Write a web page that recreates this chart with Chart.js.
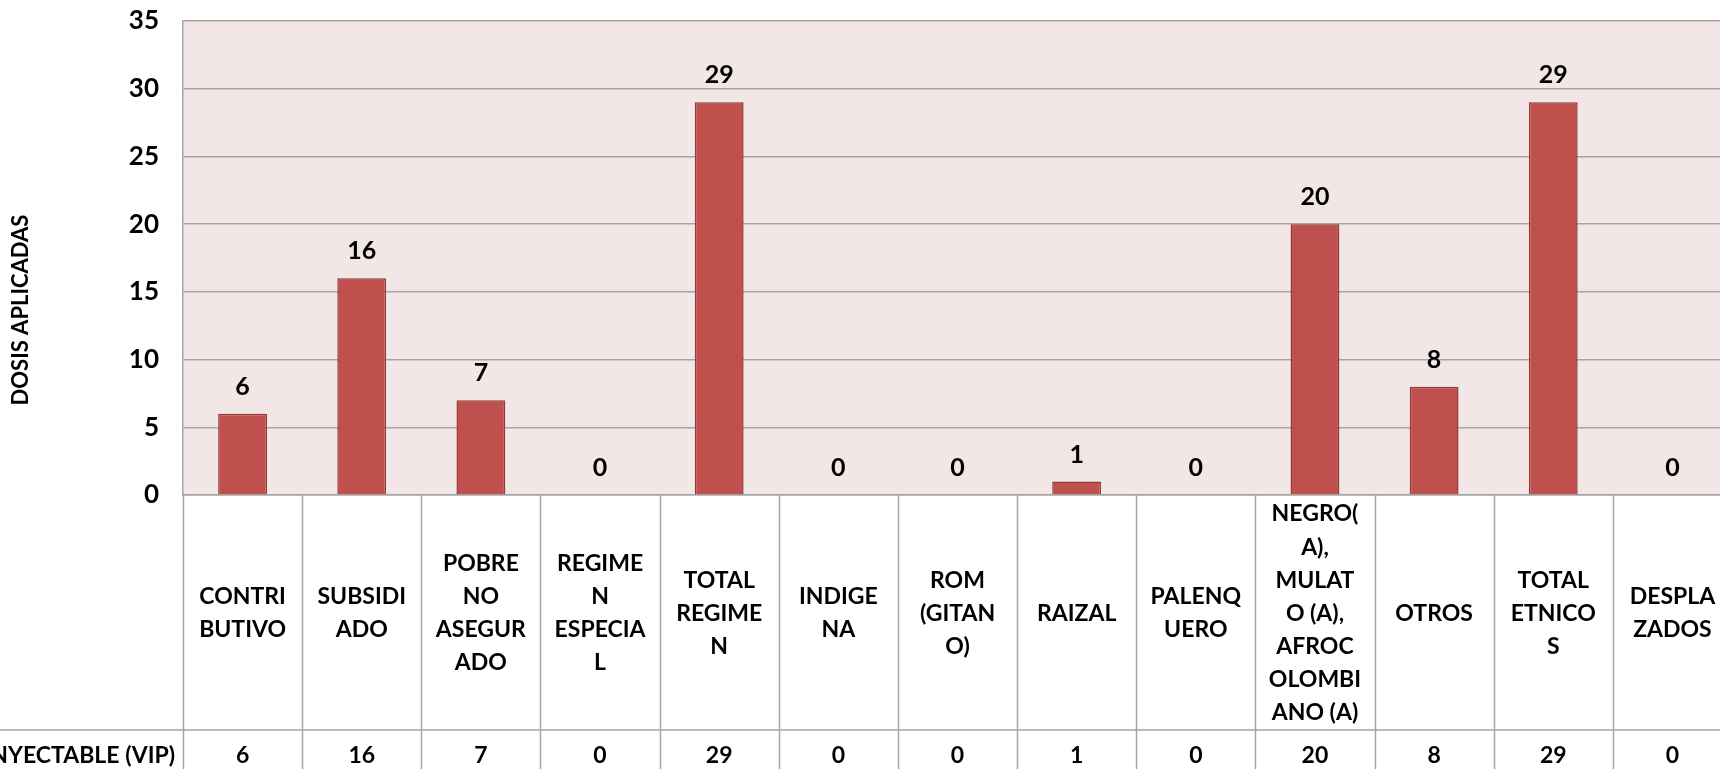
<!DOCTYPE html>
<html>
<head>
<meta charset="utf-8">
<script src="https://cdn.jsdelivr.net/npm/chart.js@4.4.0/dist/chart.umd.min.js"></script>
<style>
    html, body { margin: 0; padding: 0; background: #ffffff; overflow: hidden; }
    #wrap { position: relative; width: 1735px; height: 769px; }
</style>
</head>
<body>
<div id="wrap"><canvas id="chart" width="1735" height="769"></canvas></div>
<script>
var categories = [
    ["CONTRI", "BUTIVO"],
    ["SUBSIDI", "ADO"],
    ["POBRE", "NO", "ASEGUR", "ADO"],
    ["REGIME", "N", "ESPECIA", "L"],
    ["TOTAL", "REGIME", "N"],
    ["INDIGE", "NA"],
    ["ROM", "(GITAN", "O)"],
    ["RAIZAL"],
    ["PALENQ", "UERO"],
    ["NEGRO(", "A),", "MULAT", "O (A),", "AFROC", "OLOMBI", "ANO (A)"],
    ["OTROS"],
    ["TOTAL", "ETNICO", "S"],
    ["DESPLA", "ZADOS"]
];
var seriesName = "INYECTABLE (VIP)";
var dosis = [6, 16, 7, 0, 29, 0, 0, 1, 0, 20, 8, 29, 0];
var yMin = 0;
var yMax = 35;
var yStep = 5;
var axisTitle = "DOSIS APLICADAS";

var FONT = "Lato, 'Open Sans', sans-serif";
var GRID = "#a5a5a5";

// plot background + data table + labels
var excelLook = {
    id: "excelLook",
    beforeDraw: function(chart) {
        var a = chart.chartArea, ctx = chart.ctx;
        ctx.save();
        ctx.fillStyle = "#f2e7e6";
        ctx.fillRect(a.left, a.top, a.right - a.left, a.bottom - a.top);
        ctx.restore();
    },
    afterDatasetsDraw: function(chart) {
        var ctx = chart.ctx;
        var meta = chart.getDatasetMeta(0);
        ctx.save();
        ctx.font = "bold 25px " + FONT;
        ctx.fillStyle = "#000";
        ctx.textAlign = "center";
        ctx.textBaseline = "middle";
        meta.data.forEach(function(bar, i) {
            ctx.fillText(String(dosis[i]), bar.x, bar.y - 27);
        });
        ctx.restore();
    },
    afterDraw: function(chart) {
        var ctx = chart.ctx, a = chart.chartArea, x = chart.scales.x;
        var n = categories.length;
        var colW = (x.right - x.left) / n;
        var rowY = a.bottom + 235;
        ctx.save();
        ctx.strokeStyle = GRID;
        ctx.lineWidth = 1.5;
        ctx.beginPath();
        for (var i = 0; i <= n; i++) {
            var px = Math.round(x.left + i * colW) + 0.5;
            ctx.moveTo(px, a.bottom);
            ctx.lineTo(px, chart.height);
        }
        ctx.moveTo(0, rowY);
        ctx.lineTo(chart.width, rowY);
        ctx.stroke();

        ctx.font = "bold 23px " + FONT;
        ctx.fillStyle = "#000";
        ctx.textBaseline = "middle";
        ctx.textAlign = "center";
        dosis.forEach(function(v, i) {
            ctx.fillText(String(v), x.getPixelForValue(i), rowY + 26);
        });
        ctx.textAlign = "right";
        ctx.fillText(seriesName, x.left - 8, rowY + 26);

        // vertical axis title
        ctx.font = "bold 22px " + FONT;
        ctx.translate(21, 310);
        ctx.rotate(-Math.PI / 2);
        ctx.textAlign = "center";
        ctx.fillText(axisTitle, 0, 0);
        ctx.restore();
    }
};

new Chart(document.getElementById("chart"), {
    type: "bar",
    data: {
        labels: categories,
        datasets: [{
            label: seriesName,
            data: dosis,
            backgroundColor: "#c0504d",
            borderColor: "#943a37",
            borderWidth: 1.5,
            barPercentage: 0.41,
            categoryPercentage: 1
        }]
    },
    options: {
        responsive: false,
        animation: false,
        devicePixelRatio: 1,
        layout: { padding: { top: 21, right: 3, left: 0, bottom: 0 } },
        plugins: {
            legend: { display: false },
            tooltip: { enabled: false }
        },
        scales: {
            y: {
                min: yMin,
                max: yMax,
                ticks: {
                    stepSize: yStep,
                    color: "#000",
                    padding: 24,
                    font: { family: FONT, size: 26, weight: "bold" }
                },
                grid: { color: GRID, lineWidth: 1.5, drawTicks: false },
                border: { display: true, color: GRID, width: 1.5 },
                afterFit: function(scale) {
                    scale.width = 183;
                    scale.paddingTop = 0;
                    scale.paddingBottom = 0;
                }
            },
            x: {
                offset: true,
                ticks: {
                    color: "#000",
                    autoSkip: false,
                    maxRotation: 0,
                    minRotation: 0,
                    crossAlign: "center",
                    padding: 19,
                    font: { family: FONT, size: 23, weight: "bold", lineHeight: 1.44 }
                },
                grid: { display: false, drawTicks: false },
                border: { display: true, color: GRID, width: 1.5 },
                afterFit: function(scale) {
                    scale.height = 274;
                    scale.paddingLeft = 0;
                    scale.paddingRight = 0;
                }
            }
        }
    },
    plugins: [excelLook]
});
</script>
</body>
</html>
